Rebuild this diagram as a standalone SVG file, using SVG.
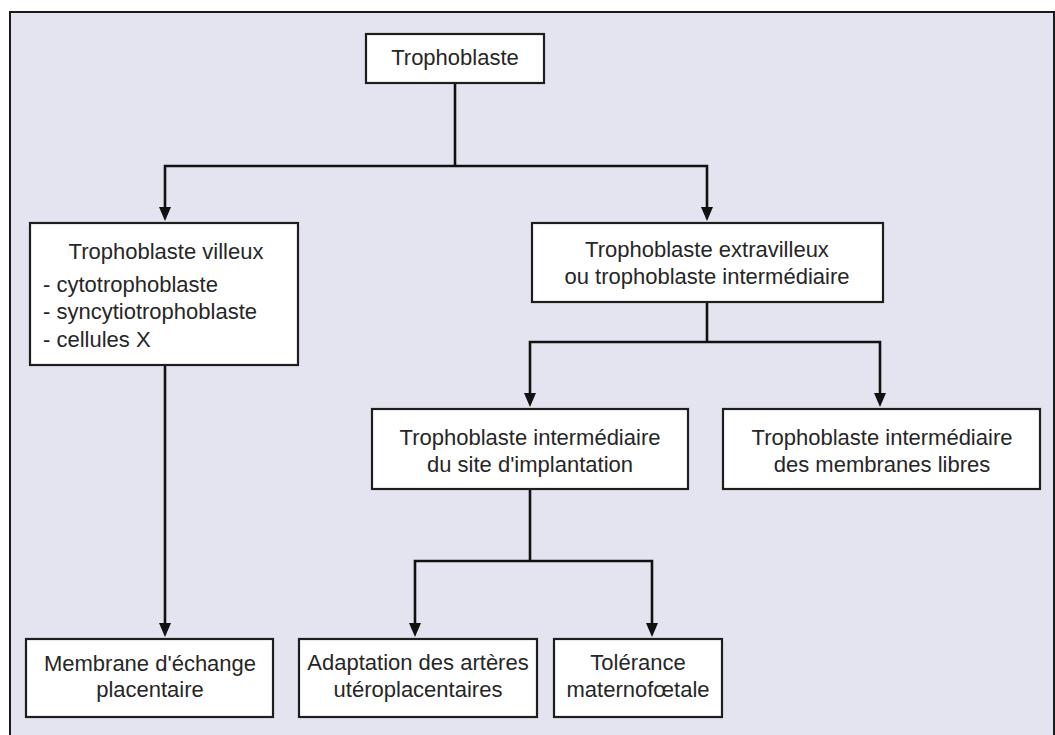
<svg xmlns="http://www.w3.org/2000/svg" width="1055" height="735" viewBox="0 0 1055 735">
<style>
.box{fill:#ffffff;stroke:#1e1e1e;stroke-width:2.2}
.t{font-family:"Liberation Sans",Arial,sans-serif;font-size:22px;fill:#262626;text-anchor:middle}
.l{font-family:"Liberation Sans",Arial,sans-serif;font-size:22px;fill:#262626;text-anchor:start}
.c{fill:none;stroke:#111;stroke-width:2.6}
.ah{fill:#111}
</style>
<rect x="0" y="0" width="1055" height="735" fill="#ffffff"/>
<rect x="10" y="12" width="1044" height="740" fill="#e3e4f0" stroke="#1a1a1a" stroke-width="2"/>
<g id="connectors">
<polyline class="c" points="455,83 455,166"/>
<polyline class="c" points="165,210 165,166 707,166 707,210"/>
<polyline class="c" points="165,365 165,626"/>
<polyline class="c" points="707,302 707,342"/>
<polyline class="c" points="530,396 530,342 880,342 880,396"/>
<polyline class="c" points="530,489 530,561"/>
<polyline class="c" points="415,626 415,561 652,561 652,626"/>
<path class="ah" d="M159,207 L171,207 L165,221 Z"/>
<path class="ah" d="M701,207 L713,207 L707,221 Z"/>
<path class="ah" d="M159,623 L171,623 L165,637 Z"/>
<path class="ah" d="M524,393 L536,393 L530,407 Z"/>
<path class="ah" d="M874,393 L886,393 L880,407 Z"/>
<path class="ah" d="M409,623 L421,623 L415,637 Z"/>
<path class="ah" d="M646,623 L658,623 L652,637 Z"/>
</g>
<g id="trophoblaste">
<rect class="box" x="366" y="34" width="178" height="49"/>
<text class="t" x="455" y="65">Trophoblaste</text>
</g>
<g id="villeux">
<rect class="box" x="30" y="223" width="268" height="142"/>
<text class="t" x="166" y="259">Trophoblaste villeux</text>
<text class="l" x="43" y="292">- cytotrophoblaste</text>
<text class="l" x="43" y="319">- syncytiotrophoblaste</text>
<text class="l" x="43" y="347">- cellules X</text>
</g>
<g id="extravilleux">
<rect class="box" x="532" y="223" width="351" height="79"/>
<text class="t" x="707" y="257">Trophoblaste extravilleux</text>
<text class="t" x="707" y="284">ou trophoblaste intermédiaire</text>
</g>
<g id="implantation">
<rect class="box" x="372" y="409" width="316" height="80"/>
<text class="t" x="530" y="445">Trophoblaste intermédiaire</text>
<text class="t" x="530" y="472">du site d'implantation</text>
</g>
<g id="membranes-libres">
<rect class="box" x="723" y="409" width="317" height="80"/>
<text class="t" x="882" y="445">Trophoblaste intermédiaire</text>
<text class="t" x="882" y="472">des membranes libres</text>
</g>
<g id="membrane-echange">
<rect class="box" x="26" y="639" width="247" height="78"/>
<text class="t" x="150" y="671">Membrane d'échange</text>
<text class="t" x="150" y="697">placentaire</text>
</g>
<g id="adaptation">
<rect class="box" x="299" y="639" width="238" height="78"/>
<text class="t" x="418" y="670">Adaptation des artères</text>
<text class="t" x="418" y="697">utéroplacentaires</text>
</g>
<g id="tolerance">
<rect class="box" x="554" y="639" width="168" height="78"/>
<text class="t" x="638" y="670">Tolérance</text>
<text class="t" x="638" y="697">maternofœtale</text>
</g>
</svg>
